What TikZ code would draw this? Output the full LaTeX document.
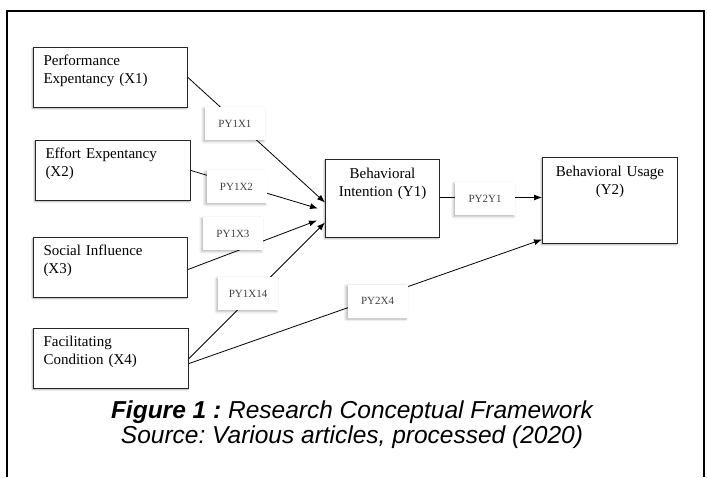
\documentclass[tikz,border=0pt]{standalone}
\usepackage{fontspec}
\setmainfont{Liberation Serif}
\newfontfamily\capfont{Liberation Sans}
\usetikzlibrary{arrows.meta,positioning,calc,shadows.blur}
\frenchspacing

\begin{document}
\begin{tikzpicture}[x=1pt, y=-1pt,
      box/.style={draw=black!85, line width=1pt, fill=white,
                  blur shadow={shadow xshift=-1.2pt, shadow yshift=-1.2pt,
                               shadow blur radius=1.5pt, shadow opacity=35},
                  anchor=north west, inner xsep=10pt, inner ysep=6pt,
                  text height=12pt, font=\fontsize{15}{18}\selectfont},
      xbox/.style={box, align=left, text width=134pt, text depth=36pt},
      ybox/.style={box, align=center, inner ysep=7pt},
      coef/.style={fill=white, minimum width=60pt, minimum height=33pt, inner sep=0pt,
                   blur shadow={shadow xshift=-1.5pt, shadow yshift=-1.5pt,
                                shadow blur radius=2.5pt, shadow opacity=30},
                   text=black!75, font=\fontsize{11}{12}\selectfont},
      link/.style={line width=0.8pt, -{Latex[length=8pt,width=6pt]}}]
    \useasboundingbox (0,0) rectangle (707,477);
    \draw[line width=1.6pt] (7,477) -- (7,11) -- (704,11) -- (704,477);
    \node[xbox] (X1) at (33,47) {Performance\\Expentancy (X1)};
    \node[xbox, text width=135pt] (X2) at (35,140) {Effort Expentancy\\(X2)};
    \node[xbox] (X3) at (33,237) {Social Influence\\(X3)};
    \node[xbox, text width=135pt] (X4) at (33,328) {Facilitating\\Condition (X4)};
    \node[ybox, text width=94pt, text depth=52pt] (Y1) at (325,159)
      {Behavioral\\Intention (Y1)};
    \node[ybox, text width=115pt, text depth=60pt] (Y2) at (542,157)
      {Behavioral Usage\\(Y2)};
    \coordinate (in1) at ($(Y1.west)+(0,4)$);
    \coordinate (in2) at ($(Y1.west)+(-7,10)$);
    \coordinate (in3) at ($(Y1.west)+(-8,22)$);
    \coordinate (in4) at ($(Y1.west)+(0,24)$);
    \coordinate (us1) at ($(Y2.west)+(0,-3)$);
    \coordinate (us2) at ($(Y2.west)+(0,39)$);
    \draw[link] (X1.east) -- (in1);
    \draw[link] (X2.east) -- (in2);
    \draw[link] ($(X3.east)+(0,2)$) -- (in3);
    \draw[link] (X4.east) -- (in4);
    \draw[link] ($(X4.east)+(0,5)$) -- (us2);
    \draw[link] (Y1.east |- us1) -- (us1);
    \node[coef] (c11) at (235,123.5) {PY1X1};
    \node[coef] (c12) at (236.5,186.5) {PY1X2};
    \node[coef] (c13) at (233,233.5) {PY1X3};
    \node[coef] (c14) at (248,293.5) {PY1X14};
    \node[coef] (c21) at (485,198.5) {PY2Y1};
    \node[coef] (c24) at (377.5,301) {PY2X4};
    \node[font=\capfont\fontsize{24.5}{25}\selectfont\itshape, align=center, anchor=base] (cap)
      at (352,443) {\textbf{Figure 1 :} Research Conceptual Framework\\
      Source: Various articles, processed (2020)};
  \end{tikzpicture}
\end{document}
